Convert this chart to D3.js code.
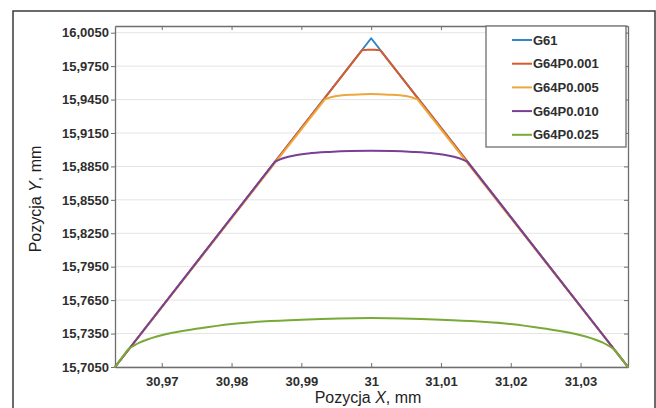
<!DOCTYPE html>
<html><head><meta charset="utf-8">
<script src="https://cdn.jsdelivr.net/npm/d3@7/dist/d3.min.js"></script>
<style>
html,body{margin:0;padding:0;background:#fff;}
svg{display:block;font-family:"Liberation Sans",Arial,sans-serif;}
</style></head>
<body>
<svg id="c" width="656" height="408"></svg>
<script>
// ---- data ----
const seriesNames = ["G61","G64P0.001","G64P0.005","G64P0.010","G64P0.025"];
const seriesColors = ["#2f86c9","#d95a2b","#eea73c","#7a3f95","#78aa35"];
const xTicks = [30.97,30.98,30.99,31,31.01,31.02,31.03];
const yTicks = [15.705,15.735,15.765,15.795,15.825,15.855,15.885,15.915,15.945,15.975,16.005];
const xDomain = [30.9633,31.0368];
const yDomain = [15.705,16.011];

const g61X = [30.9633,31.0,31.0368];
const g61Y = [15.705,16.0,15.705];

const p001X = [30.9633,30.99871,30.9995,31.0,31.0005,31.00129,31.0368];
const p001Y = [15.705,15.9893,15.9896,15.9897,15.9896,15.9893,15.705];

const p005X = [30.9633,30.9934,30.995,30.9975,31.0,31.0025,31.005,31.0066,31.0368];
const p005Y = [15.705,15.9454,15.9481,15.9494,15.9499,15.9494,15.9481,15.9454,15.705];

const p010X = [30.9633,30.98623,30.9875,30.989,30.991,30.994,30.997,31.0,31.003,31.006,31.009,31.011,31.0125,31.01377,31.0368];
const p010Y = [15.705,15.8893,15.8925,15.8948,15.8966,15.898,15.8988,15.899,15.8988,15.898,15.8966,15.8948,15.8925,15.8893,15.705];

const p025X = [30.9633,30.96518,30.9668,30.9697,30.9755,30.98,30.99,31.0,31.01,31.02,31.0245,31.0303,31.0332,31.03482,31.0368];
const p025Y = [15.705,15.7209,15.7268,15.7331,15.7397,15.7436,15.7474,15.749,15.7474,15.7436,15.7397,15.7331,15.7268,15.7209,15.705];

const seriesX = [g61X,p001X,p005X,p010X,p025X];
const seriesY = [g61Y,p001Y,p005Y,p010Y,p025Y];
// smooth arc segments only for blended series (index >=1)
const smooth = [false,true,true,true,true];

const fmtX = d => (Math.abs(d-31)<1e-9 ? "31" : d.toFixed(2).replace(".",","));
const fmtY = d => d.toFixed(4).replace(".",",");

// ---- layout ----
const svg = d3.select("#c");
const L=115, R=628, T=26, B=367;
const x = d3.scaleLinear().domain(xDomain).range([L,R]);
const y = d3.scaleLinear().domain(yDomain).range([B,T]);

// outer frame
svg.append("rect").attr("x",13).attr("y",11).attr("width",642).attr("height",410)
  .attr("fill","#fff").attr("stroke","#3a3a3a").attr("stroke-width",1.5);

// gridlines
svg.append("g").selectAll("line").data(yTicks).join("line")
  .attr("x1",L).attr("x2",R).attr("y1",d=>y(d)).attr("y2",d=>y(d))
  .attr("stroke","#e4e4e4").attr("stroke-width",1);

// axes
const axB = d3.axisBottom(x).tickValues(xTicks).tickFormat(fmtX).tickSizeInner(-4).tickSizeOuter(0).tickPadding(10);
const axT = d3.axisTop(x).tickValues(xTicks).tickFormat("").tickSizeInner(-4).tickSizeOuter(0);
const axL = d3.axisLeft(y).tickValues(yTicks).tickFormat(fmtY).tickSizeInner(4).tickSizeOuter(0).tickPadding(2);
const axR = d3.axisRight(y).tickValues(yTicks).tickFormat("").tickSizeInner(-4).tickSizeOuter(0);

function styleAxis(g){
  g.select(".domain").attr("stroke","#6e6e6e").attr("stroke-width",1.3);
  g.selectAll(".tick line").attr("stroke","#6e6e6e");
  g.selectAll(".tick text").attr("fill","#2e2e2e").attr("font-size","13px").attr("font-weight","bold")
   .attr("font-family","'Liberation Sans',Arial,sans-serif");
}
svg.append("g").attr("transform",`translate(0,${B})`).call(axB).call(styleAxis);
svg.append("g").attr("transform",`translate(0,${T})`).call(axT).call(styleAxis);
svg.append("g").attr("transform",`translate(${L},0)`).call(axL).call(styleAxis);
svg.append("g").attr("transform",`translate(${R},0)`).call(axR).call(styleAxis);

// series lines
const clip = svg.append("defs").append("clipPath").attr("id","pc")
  .append("rect").attr("x",L).attr("y",T-6).attr("width",R-L).attr("height",B-T+6);

const lineStraight = d3.line().x(d=>x(d[0])).y(d=>y(d[1]));
const lineSmooth = d3.line().x(d=>x(d[0])).y(d=>y(d[1])).curve(d3.curveMonotoneX);

seriesNames.forEach((name,i)=>{
  const pts = seriesX[i].map((v,k)=>[v,seriesY[i][k]]);
  let path;
  if(!smooth[i]){
    path = lineStraight(pts);
  } else {
    // straight flanks, smooth inner blend (points 1..n-2)
    const inner = pts.slice(1,pts.length-1);
    const left = lineStraight([pts[0],pts[1]]);
    const mid = lineSmooth(inner);
    const right = lineStraight([pts[pts.length-2],pts[pts.length-1]]);
    path = left + mid.replace(/^M/,"L") + right.replace(/^M/,"L");
  }
  svg.append("path").attr("d",path).attr("fill","none")
    .attr("stroke",seriesColors[i]).attr("stroke-width",2)
    .attr("stroke-linejoin","round").attr("stroke-linecap","round");
});

// legend
const lg = svg.append("g");
lg.append("rect").attr("x",486).attr("y",T).attr("width",140).attr("height",121)
  .attr("fill","#fff").attr("stroke","#6e6e6e").attr("stroke-width",1.3);
seriesNames.forEach((name,i)=>{
  const cy = 40 + i*23.7;
  lg.append("line").attr("x1",512).attr("x2",532).attr("y1",cy).attr("y2",cy)
    .attr("stroke",seriesColors[i]).attr("stroke-width",2);
  lg.append("text").attr("x",533).attr("y",cy).attr("dy","0.35em")
    .attr("font-size","13px").attr("font-weight","bold").attr("fill","#2e2e2e").text(name);
});

// axis titles
const xt = svg.append("text").attr("x",368).attr("y",403).attr("text-anchor","middle")
  .attr("font-size","16px").attr("fill","#1e1e1e");
xt.append("tspan").text("Pozycja ");
xt.append("tspan").attr("font-style","italic").text("X");
xt.append("tspan").text(", mm");

const yt = svg.append("text").attr("transform","translate(41,199) rotate(-90)").attr("text-anchor","middle")
  .attr("font-size","16px").attr("fill","#1e1e1e");
yt.append("tspan").text("Pozycja ");
yt.append("tspan").attr("font-style","italic").text("Y");
yt.append("tspan").text(", mm");
</script>
</body></html>
